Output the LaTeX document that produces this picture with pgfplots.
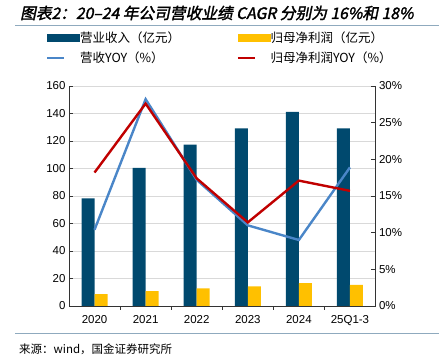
\documentclass[border=0pt]{standalone}
\usepackage{pgfplots}
\pgfplotsset{compat=1.18}
\usepackage{fontspec}
\setmainfont{Liberation Sans}
\newfontfamily\cjk{Noto Sans CJK SC}
\newfontfamily\cjktitle[FakeSlant=0.2,FakeBold=2]{Noto Sans CJK SC}
\definecolor{navyc}{RGB}{0,73,110}
\definecolor{yellowc}{RGB}{255,192,0}
\definecolor{bluel}{RGB}{74,134,200}
\definecolor{redl}{RGB}{192,0,0}
\definecolor{rulec}{RGB}{143,170,190}
\definecolor{gridc}{RGB}{217,217,217}
\begin{document}
\begin{tikzpicture}
\useasboundingbox (0,0) rectangle (439bp,357bp);
% title and rules
\node[anchor=west,inner sep=0] at (20bp,344bp) {\fontsize{15.7bp}{17bp}\cjktitle 图表2：20–24 年公司营收业绩 CAGR 分别为 16\%和 18\%};
\draw[rulec,line width=1.2bp] (15bp,331.3bp) -- (439bp,331.3bp);
\draw[rulec,line width=1.2bp] (15bp,23.7bp) -- (439bp,23.7bp);
\node[anchor=west,inner sep=0] at (19bp,8bp) {\fontsize{11.5bp}{13bp}\cjk 来源：wind，国金证券研究所};
\begin{axis}[
  at={(69bp,51bp)}, anchor=south west,
  width=306.5bp, height=220bp, scale only axis,
  xmin=-0.5, xmax=5.5, ymin=0, ymax=160,
  axis x line*=bottom, axis y line*=left,
  axis line style={black!80, line width=0.8bp},
  xtick={0,...,5},
  xticklabels={2020,2021,2022,2023,2024,25Q1-3},
  major x tick style={draw=none},
  minor xtick={0.5,1.5,2.5,3.5,4.5},
  minor x tick style={black!80, line width=0.8bp},
  minor tick length=4bp,
  ytick={0,20,...,160},
  major tick length=4bp,
  y tick style={black!80, line width=0.8bp},
  tick align=inside,
  ymajorgrids, grid style={gridc, line width=0.8bp},
  ticklabel style={font=\fontsize{11.5bp}{13bp}\selectfont},
  /pgf/number format/assume math mode=true,
  x tick label style={yshift=-2bp},
  ybar, bar width=13bp,
]
\addplot[fill=navyc, draw=none, bar shift=-6.5bp] coordinates {(0,78.3) (1,100.4) (2,117.3) (3,129.2) (4,141.1) (5,129.2)};
\addplot[fill=yellowc, draw=none, bar shift=6.5bp] coordinates {(0,8.7) (1,10.9) (2,12.8) (3,14.3) (4,16.7) (5,15.3)};
\end{axis}
\begin{axis}[
  at={(69bp,51bp)}, anchor=south west,
  width=306.5bp, height=220bp, scale only axis,
  xmin=-0.5, xmax=5.5, ymin=0, ymax=30,
  axis x line=none, axis y line*=right,
  axis line style={black!80, line width=0.8bp},
  ytick={0,5,...,30},
  yticklabel={\pgfmathprintnumber{\tick}\%},
  major tick length=4bp,
  y tick style={black!80, line width=0.8bp},
  tick align=inside,
  ticklabel style={font=\fontsize{11.5bp}{13bp}\selectfont},
  /pgf/number format/assume math mode=true,
  legend columns=2,
  legend style={draw=none, fill=none, at={(-0.075,1.25)}, anchor=north west,
    inner sep=0pt, font=\fontsize{12.5bp}{14bp}\cjk, row sep=7bp,
    nodes={inner sep=0.5bp}},
  legend cell align=left,
]
\addlegendimage{legend image code/.code={\fill[navyc] (0bp,-3.5bp) rectangle (32bp,3.5bp);}}
\addlegendentry{\makebox[156bp][l]{营业收入（亿元）}}
\addlegendimage{legend image code/.code={\fill[yellowc] (0bp,-3.5bp) rectangle (32bp,3.5bp);}}
\addlegendentry{归母净利润（亿元）}
\addplot[bluel, line width=2.4bp, mark=none] coordinates {(0,10.4) (1,28.2) (2,17.2) (3,11.0) (4,9.0) (5,18.9)};
\addlegendentry{\makebox[156bp][l]{营收YOY（\%）}}
\addplot[redl, line width=2.4bp, mark=none] coordinates {(0,18.2) (1,27.6) (2,17.4) (3,11.4) (4,17.1) (5,15.7)};
\addlegendentry{归母净利润YOY（\%）}
\end{axis}
\end{tikzpicture}
\end{document}
